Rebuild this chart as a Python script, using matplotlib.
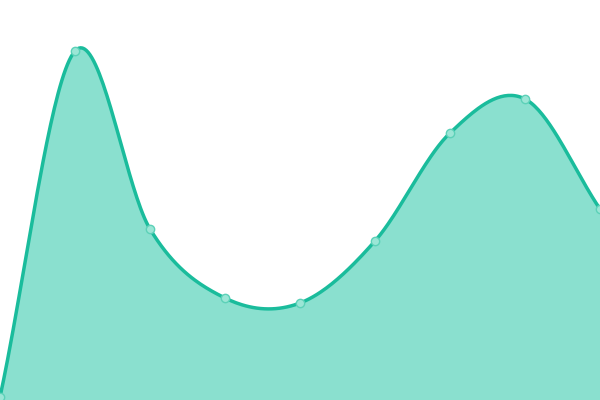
import numpy as np
import matplotlib
matplotlib.use("Agg")
import matplotlib.pyplot as plt

# values (0 = bottom edge, 400 = top edge)
x_vals = [0, 1, 2, 3, 4, 5, 6, 7, 8]
y_vals = [3, 349, 171, 102, 97, 159, 267, 301, 191]

line_color = "#1abc9c"
fill_color = "#8ae0cf"


def catmull_rom(x, y, steps=40):
    x = np.asarray(x, float)
    y = np.asarray(y, float)
    n = len(y)
    m = np.zeros(n)
    m[1:-1] = (y[2:] - y[:-2]) / 2
    m[0] = y[1] - y[0]
    m[-1] = y[-1] - y[-2]
    xs, ys = [], []
    for i in range(n - 1):
        t = np.linspace(0, 1, steps, endpoint=(i == n - 2))
        h00 = 2 * t**3 - 3 * t**2 + 1
        h10 = t**3 - 2 * t**2 + t
        h01 = -2 * t**3 + 3 * t**2
        h11 = t**3 - t**2
        ys.append(h00 * y[i] + h10 * m[i] + h01 * y[i + 1] + h11 * m[i + 1])
        xs.append(x[i] + t * (x[i + 1] - x[i]))
    return np.concatenate(xs), np.concatenate(ys)


sx, sy = catmull_rom(x_vals, y_vals)

fig = plt.figure(figsize=(6, 4), dpi=100)
ax = fig.add_axes([0, 0, 1, 1])
ax.fill_between(sx, 0, sy, color=fill_color, lw=0)
ax.plot(sx, sy, color=line_color, lw=2.5, solid_capstyle="round")
ax.plot(x_vals, y_vals, "o", ms=6, mfc="#9be6d6", mec="#5cd1b8", mew=1)
ax.set_xlim(0, 8)
ax.set_ylim(0, 400)
ax.axis("off")
fig.savefig("out.png", dpi=100)
